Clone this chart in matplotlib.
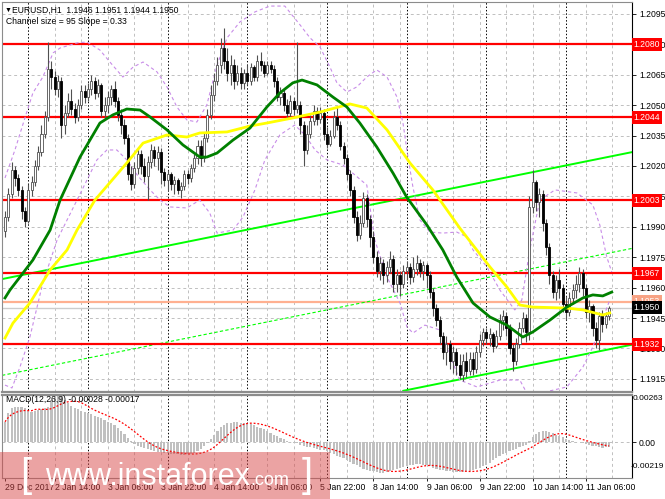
import matplotlib
matplotlib.use("Agg")
import matplotlib.pyplot as plt
import numpy as np
import pandas as pd
from matplotlib.patches import Rectangle

# EURUSD H1 candles (open of each bar = previous close)
first_open = 1.1988
closes = [
	1.1995, 1.2006, 1.2018, 1.2014, 1.2008, 1.1998, 1.1993, 1.2008, 1.2012, 1.2020,
	1.2027, 1.2036, 1.2044, 1.2068, 1.2064, 1.2058, 1.2062, 1.2040, 1.2046, 1.2052,
	1.2048, 1.2044, 1.2050, 1.2057, 1.2054, 1.2058, 1.2062, 1.2056, 1.2060, 1.2047,
	1.2050, 1.2054, 1.2058, 1.2052, 1.2045, 1.2040, 1.2034, 1.2016, 1.2011, 1.2019,
	1.2026, 1.2020, 1.2015, 1.2022, 1.2028, 1.2024, 1.2027, 1.2017, 1.2013, 1.2016,
	1.2011, 1.2013, 1.2008, 1.2010, 1.2016, 1.2014, 1.2019, 1.2024, 1.2030, 1.2024,
	1.2034, 1.2045, 1.2055, 1.2062, 1.2070, 1.2078, 1.2072, 1.2066, 1.2070, 1.2062,
	1.2066, 1.2061, 1.2066, 1.2062, 1.2069, 1.2064, 1.2072, 1.2070, 1.2066, 1.2070,
	1.2068, 1.2062, 1.2054, 1.2056, 1.2050, 1.2046, 1.2052, 1.2048, 1.2050, 1.2040,
	1.2028, 1.2036, 1.2042, 1.2047, 1.2043, 1.2046, 1.2036, 1.2031, 1.2035, 1.2044,
	1.2040, 1.2030, 1.2024, 1.2016, 1.2008, 1.1995, 1.1986, 1.1992, 1.2004, 1.1994,
	1.1985, 1.1975, 1.1968, 1.1972, 1.1966, 1.1970, 1.1974, 1.1962, 1.1966, 1.1962,
	1.1968, 1.1970, 1.1965, 1.1969, 1.1972, 1.1968, 1.1971, 1.1966, 1.1958, 1.1950,
	1.1944, 1.1936, 1.1928, 1.1932, 1.1924, 1.1928, 1.1922, 1.1917, 1.1924, 1.1919,
	1.1925, 1.1920, 1.1928, 1.1934, 1.1938, 1.1935, 1.1937, 1.1931, 1.1936, 1.1944,
	1.1946, 1.1940, 1.1930, 1.1924, 1.1932, 1.1940, 1.1945, 1.1938, 1.2000, 1.2012,
	1.2002, 1.2006, 1.1992, 1.1980, 1.1966, 1.1958, 1.1964, 1.1960, 1.1952, 1.1948,
	1.1955, 1.1959, 1.1962, 1.1967, 1.1960, 1.1948, 1.1951, 1.1940, 1.1934, 1.1946,
	1.1942, 1.1946, 1.1950,
]
highs = [
	1.1998, 1.2009, 1.2022, 1.2020, 1.2016, 1.2010, 1.2000, 1.2011, 1.2015, 1.2023,
	1.2030, 1.2040, 1.2047, 1.2081, 1.2072, 1.2067, 1.2065, 1.2064, 1.2050, 1.2056,
	1.2058, 1.2051, 1.2053, 1.2060, 1.2060, 1.2061, 1.2065, 1.2064, 1.2063, 1.2061,
	1.2054, 1.2057, 1.2060, 1.2062, 1.2054, 1.2048, 1.2043, 1.2036, 1.2020, 1.2022,
	1.2029, 1.2028, 1.2024, 1.2025, 1.2031, 1.2030, 1.2030, 1.2029, 1.2019, 1.2018,
	1.2017, 1.2015, 1.2014, 1.2012, 1.2018, 1.2018, 1.2021, 1.2026, 1.2033, 1.2033,
	1.2037, 1.2048, 1.2060, 1.2066, 1.2074, 1.2083, 1.2088, 1.2078, 1.2075, 1.2073,
	1.2070, 1.2069, 1.2068, 1.2070, 1.2071, 1.2070, 1.2075, 1.2076, 1.2072, 1.2072,
	1.2072, 1.2070, 1.2064, 1.2059, 1.2058, 1.2053, 1.2055, 1.2054, 1.2081, 1.2052,
	1.2042, 1.2040, 1.2045, 1.2050, 1.2049, 1.2049, 1.2048, 1.2039, 1.2038, 1.2047,
	1.2049, 1.2042, 1.2032, 1.2026, 1.2018, 1.2010, 1.1998, 1.1996, 1.2007, 1.2006,
	1.1996, 1.1988, 1.1978, 1.1975, 1.1974, 1.1973, 1.1978, 1.1976, 1.1969, 1.1968,
	1.1971, 1.1973, 1.1972, 1.1975, 1.1976, 1.1974, 1.1973, 1.1972, 1.1968, 1.1960,
	1.1952, 1.1946, 1.1938, 1.1936, 1.1934, 1.1931, 1.1930, 1.1927, 1.1927, 1.1928,
	1.1928, 1.1928, 1.1931, 1.1937, 1.1940, 1.1940, 1.1940, 1.1938, 1.1939, 1.1947,
	1.1949, 1.1948, 1.1942, 1.1932, 1.1935, 1.1943, 1.1948, 1.1947, 1.2005, 1.2018,
	1.2013, 1.2009, 1.2008, 1.1994, 1.1982, 1.1968, 1.1966, 1.1969, 1.1962, 1.1956,
	1.1958, 1.1962, 1.1966, 1.1970, 1.1969, 1.1962, 1.1954, 1.1952, 1.1943, 1.1948,
	1.1949, 1.1948, 1.1951,
]
lows = [
	1.1985, 1.1993, 1.2004, 1.2010, 1.2005, 1.1994, 1.1990, 1.1992, 1.2005, 1.2010,
	1.2018, 1.2025, 1.2034, 1.2042, 1.2058, 1.2055, 1.2054, 1.2034, 1.2036, 1.2044,
	1.2045, 1.2041, 1.2042, 1.2048, 1.2051, 1.2052, 1.2055, 1.2053, 1.2054, 1.2044,
	1.2043, 1.2046, 1.2050, 1.2049, 1.2042, 1.2036, 1.2031, 1.2013, 1.2008, 1.2009,
	1.2016, 1.2016, 1.2012, 1.2003, 1.2019, 1.2020, 1.2018, 1.2011, 1.2010, 1.2008,
	1.2008, 1.2006, 1.2006, 1.2004, 1.2008, 1.2011, 1.2012, 1.2017, 1.2021, 1.2020,
	1.2022, 1.2032, 1.2043, 1.2052, 1.2060, 1.2066, 1.2068, 1.2062, 1.2060, 1.2058,
	1.2060, 1.2058, 1.2058, 1.2060, 1.2060, 1.2062, 1.2062, 1.2067, 1.2064, 1.2065,
	1.2066, 1.2059, 1.2052, 1.2050, 1.2047, 1.2043, 1.2044, 1.2045, 1.2046, 1.2036,
	1.2020, 1.2026, 1.2034, 1.2040, 1.2040, 1.2041, 1.2033, 1.2029, 1.2030, 1.2034,
	1.2038, 1.2028, 1.2021, 1.2013, 1.2005, 1.1992, 1.1983, 1.1984, 1.1990, 1.1990,
	1.1980, 1.1972, 1.1965, 1.1964, 1.1962, 1.1963, 1.1967, 1.1958, 1.1958, 1.1956,
	1.1960, 1.1964, 1.1962, 1.1963, 1.1966, 1.1965, 1.1964, 1.1960, 1.1955, 1.1946,
	1.1941, 1.1932, 1.1925, 1.1922, 1.1920, 1.1918, 1.1917, 1.1915, 1.1914, 1.1916,
	1.1917, 1.1917, 1.1918, 1.1926, 1.1931, 1.1932, 1.1931, 1.1928, 1.1930, 1.1934,
	1.1939, 1.1936, 1.1927, 1.1919, 1.1922, 1.1930, 1.1938, 1.1933, 1.1934, 1.1997,
	1.1998, 1.1995, 1.1988, 1.1976, 1.1962, 1.1955, 1.1954, 1.1955, 1.1948, 1.1944,
	1.1946, 1.1952, 1.1955, 1.1958, 1.1956, 1.1945, 1.1943, 1.1936, 1.1930, 1.1929,
	1.1938, 1.1940, 1.1944,
]

# MACD(12,26,9) main line, in 1e-5 units
macd_main = [
	115, 163, 190, 196, 198, 198, 190, 175, 170, 175,
	180, 185, 190, 200, 235, 255, 264, 260, 240, 220,
	205, 195, 185, 175, 170, 165, 160, 150, 142, 135,
	125, 115, 105, 95, 80, 65, 45, 25, 8, -10,
	-20, -28, -35, -40, -45, -50, -55, -58, -60, -63,
	-66, -68, -70, -72, -72, -70, -66, -60, -50, -38,
	-22, -5, 15, 40, 65, 85, 98, 106, 110, 112,
	112, 110, 108, 105, 100, 95, 88, 80, 72, 62,
	52, 42, 32, 24, 16, 8, 2, -3, -8, -14,
	-20, -26, -30, -34, -38, -42, -46, -52, -60, -68,
	-76, -84, -92, -102, -112, -122, -132, -142, -150, -156,
	-162, -166, -170, -172, -172, -170, -166, -160, -154, -148,
	-142, -136, -132, -128, -126, -126, -128, -132, -138, -144,
	-150, -156, -160, -164, -166, -168, -170, -170, -168, -166,
	-162, -158, -152, -146, -138, -128, -116, -104, -92, -80,
	-70, -60, -52, -45, -38, -30, -22, -14, 5, 28,
	45, 55, 60, 60, 56, 50, 42, 34, 26, 18,
	12, 6, 2, -2, -6, -10, -14, -20, -25, -30,
	-32, -30, -28,
]

# moving averages and bands, sampled along the drawn curves (bar, price)
green_ma_bar = [0, 1.5, 4.5, 8.4, 13.6, 16.6, 22.6, 25.6, 28.6, 32.5, 36.7, 40.7, 43.7, 48.8,
	53.6, 58.7, 60.8, 63.9, 68.7, 73.8, 78.9, 82.8, 86.7, 89.5, 94, 98.8, 103, 106.9, 112,
	116.9, 121, 127.1, 131.9, 136.1, 141, 146.1, 151.2, 156, 159, 164.2, 169.3, 174.1,
	177.1, 180.1, 182.8]
green_ma = [1.19549, 1.19588, 1.19652, 1.19736, 1.19884, 1.20032, 1.20244, 1.20328, 1.20412,
	1.20452, 1.20481, 1.20476, 1.20442, 1.20378, 1.20304, 1.20244, 1.20244, 1.20264, 1.20328,
	1.20387, 1.20491, 1.20560, 1.20610, 1.20624, 1.20600, 1.20540, 1.20491, 1.20412, 1.20294,
	1.20165, 1.20047, 1.19909, 1.19786, 1.19652, 1.19524, 1.19455, 1.19415, 1.19356, 1.19381,
	1.19440, 1.19504, 1.19549, 1.19564, 1.19559, 1.19578]
yellow_ma_bar = [0, 2.4, 7.5, 13.6, 18.7, 21.7, 27.1, 36.7, 41.6, 48.8, 54.8, 58.7, 66.9, 73.8,
	78.9, 86.7, 94.9, 103.9, 109, 115.1, 122, 128.9, 137, 146.1, 151.2, 155.1, 159, 169.3,
	174.1, 180.1, 182.2]
yellow_ma = [1.19351, 1.19425, 1.19524, 1.19687, 1.19786, 1.19884, 1.20032, 1.20215, 1.20313,
	1.20353, 1.20343, 1.20363, 1.20368, 1.20397, 1.20412, 1.20437, 1.20466, 1.20506, 1.20486,
	1.20378, 1.20215, 1.20082, 1.19894, 1.19702, 1.19603, 1.19514, 1.19504, 1.19499, 1.19490,
	1.19465, 1.19475]
band_up_bar = [0, 3, 6, 8.4, 11.4, 14.5, 16.6, 21.7, 24.7, 28.6, 31.6, 35.5, 38.6, 41.6, 45.8,
	48.8, 51.8, 54.8, 57.8, 60.8, 63.9, 66.9, 70.8, 75.3, 79.8, 84.3, 88.9, 91.9, 94.9, 97.9,
	100, 103, 106, 109, 112, 115.1, 118.1, 119.9, 121.4, 122.9, 125, 128, 131.9, 136.1, 139.2,
	141, 145.2, 149.1, 153.6, 155.7, 158.1, 161.1, 165.7, 172.3, 177.1, 179.2, 181.3, 182.8]
band_up = [1.20141, 1.20279, 1.20437, 1.20560, 1.20639, 1.20758, 1.20782, 1.20807, 1.20812,
	1.20772, 1.20713, 1.20639, 1.20688, 1.20713, 1.20664, 1.20590, 1.20491, 1.20427, 1.20417,
	1.20501, 1.20698, 1.20832, 1.20911, 1.20960, 1.20989, 1.20989, 1.20896, 1.20832, 1.20787,
	1.20688, 1.20610, 1.20565, 1.20590, 1.20639, 1.20674, 1.20639, 1.20540, 1.20412, 1.20244,
	1.20096, 1.19934, 1.19874, 1.19869, 1.19874, 1.19850, 1.19786, 1.19702, 1.19588, 1.19490,
	1.19539, 1.19786, 1.20032, 1.20082, 1.20067, 1.20008, 1.19909, 1.19751, 1.19677]
band_lo_bar = [0, 2.1, 4.5, 7.5, 11.4, 15.7, 21.7, 24.7, 27.7, 30.7, 33.7, 36.7, 39.8, 43.7,
	46.7, 49.7, 54.8, 58.7, 61.7, 63.9, 68.7, 71.7, 75.3, 78.3, 82.8, 87.3, 90.4, 93.4, 97,
	101.8, 105.4, 109, 111.4, 115.1, 119, 121.1, 122.9, 126.5, 131, 134, 137, 142.2, 149.1,
	155.1, 157.2, 162.7, 169.3, 174.1, 177.1, 179.2, 182.2]
band_lo = [1.19119, 1.19105, 1.19208, 1.19356, 1.19623, 1.19835, 1.20032, 1.20131, 1.20230,
	1.20279, 1.20279, 1.20230, 1.20156, 1.20082, 1.20032, 1.19998, 1.19993, 1.20032, 1.19968,
	1.19869, 1.19884, 1.19948, 1.20082, 1.20230, 1.20353, 1.20402, 1.20353, 1.20279, 1.20230,
	1.20205, 1.20156, 1.20106, 1.19835, 1.19652, 1.19524, 1.19406, 1.19376, 1.19415, 1.19391,
	1.19267, 1.19144, 1.19110, 1.19144, 1.19144, 1.19080, 1.19085, 1.19110, 1.19208, 1.19307,
	1.19406, 1.19539]

# horizontal levels and the equidistant channel
levels = [1.2080, 1.2044, 1.2003, 1.1967, 1.1932]
bid_price = 1.1953
last_price = 1.1950
channel_top_start = 1.19645
channel_slope = 0.000033
channel_size = 0.0095
channel_low_from = 120

price_ticks = [1.2095, 1.2080, 1.2065, 1.2050, 1.2035, 1.2020, 1.2005, 1.1990, 1.1975,
	1.1960, 1.1945, 1.1930, 1.1915]
date_bars = [0, 15, 31, 47, 63, 79, 95, 111, 127, 143, 159, 175]
date_labels = ["29 Dec 2017", "2 Jan 14:00", "3 Jan 06:00", "3 Jan 22:00", "4 Jan 14:00",
	"5 Jan 06:00", "5 Jan 22:00", "8 Jan 14:00", "9 Jan 06:00", "9 Jan 22:00",
	"10 Jan 14:00", "11 Jan 06:00"]
day_bars = [7, 25, 49, 73, 97, 121, 145, 169]
grid_bars = list(range(15, 188, 8))

W, H = 665, 499
XLIM = (-0.9, 188.9)
FONT = ['Liberation Sans', 'DejaVu Sans']
GRID = dict(color='#c0c0c0', lw=0.7, ls=(0, (3, 3)), zorder=0)
SEP = dict(color='#000000', lw=0.7, ls=(0, (1.5, 2)), zorder=0.5)


def draw_candles(ax):
	idx = np.arange(len(closes))
	c = np.array(closes)
	o = np.r_[first_open, c[:-1]]
	hi = np.maximum(np.array(highs), np.maximum(o, c))
	lo = np.minimum(np.array(lows), np.minimum(o, c))
	up = c >= o
	ax.vlines(idx, lo, hi, color='#505050', lw=0.8, zorder=3)
	body = np.maximum(np.abs(c - o), 0.00003)
	ax.bar(idx, body, bottom=np.minimum(o, c), width=0.62,
		color=np.where(up, 'white', 'black'), edgecolor=np.where(up, '#505050', 'black'),
		linewidth=0.6, zorder=3.2)


def level_label(ax, price, face):
	ax.text(1.0025, price, f"{price:.4f}", transform=ax.get_yaxis_transform(),
		color='white', fontsize=6.2, family=FONT, va='center', ha='left', clip_on=False,
		zorder=10, bbox=dict(boxstyle='square,pad=0.22', fc=face, ec='none'))


def main_panel(ax):
	ax.set_xlim(*XLIM)
	ax.set_ylim(1.19085, 1.21009)
	for p in price_ticks:
		ax.axhline(p, **GRID)
	for b in grid_bars:
		ax.axvline(b, **GRID)
	for b in day_bars:
		ax.axvline(b, **SEP)

	# channel
	xs = np.array(XLIM)
	top = channel_top_start + channel_slope * xs
	ax.plot(xs, top, color='#00ff00', lw=1.4, zorder=2)
	ax.plot(xs, top - channel_size / 2, color='#00ff00', lw=0.8, ls=(0, (3, 2)), zorder=2)
	xl = np.array([channel_low_from, XLIM[1]])
	ax.plot(xl, channel_top_start + channel_slope * xl - channel_size, color='#00ff00', lw=1.4, zorder=2)

	for lv in levels:
		ax.axhline(lv, color='#ff0000', lw=1.6, zorder=2)
	ax.axhline(bid_price, color='#ffb090', lw=1.6, zorder=1.5)
	ax.axhline(last_price, color='#cccccc', lw=1.0, zorder=1.5)

	band = dict(color='#c88ce8', lw=0.8, ls=(0, (3, 2.5)), zorder=2.5)
	ax.plot(band_up_bar, band_up, **band)
	ax.plot(band_lo_bar, band_lo, **band)

	draw_candles(ax)
	ax.plot(yellow_ma_bar, yellow_ma, color='#ffff00', lw=2.0, zorder=4)
	ax.plot(green_ma_bar, green_ma, color='#008000', lw=2.0, zorder=4.2)

	ax.yaxis.tick_right()
	ax.set_yticks(price_ticks)
	ax.set_yticklabels([f"{p:.4f}" for p in price_ticks], family=FONT)
	ax.tick_params(axis='y', length=3, width=0.6, labelsize=6.2, pad=2)
	ax.tick_params(axis='x', bottom=False, labelbottom=False)

	for lv in levels:
		level_label(ax, lv, '#ff0000')
	level_label(ax, bid_price, '#f7a284')
	level_label(ax, last_price, '#000000')

	ax.text(0.004, 0.979, "\u25bc", transform=ax.transAxes, fontsize=5, va='center', family=FONT)
	ax.text(0.016, 0.979, "EURUSD,H1  1.1946 1.1951 1.1944 1.1950", transform=ax.transAxes,
		fontsize=6.2, va='center', family=FONT)
	ax.text(0.006, 0.951, "Channel size = 95 Slope = 0.33", transform=ax.transAxes,
		fontsize=6.2, va='center', family=FONT)


def macd_panel(fig, ax):
	idx = np.arange(len(macd_main))
	m = np.array(macd_main) * 1e-5
	signal = pd.Series(m).rolling(9, min_periods=1).mean()
	ax.set_xlim(*XLIM)
	ax.set_ylim(-0.00203, 0.00266)
	ax.axhline(0, **GRID)
	for b in grid_bars:
		ax.axvline(b, **GRID)
	for b in day_bars:
		ax.axvline(b, **SEP)
	ax.bar(idx, m, width=0.66, color='#c0c0c0', edgecolor='none', zorder=2)
	ax.plot(idx, signal, color='#ff0000', lw=0.9, ls=(0, (1.5, 1.5)), zorder=3)

	ax.yaxis.tick_right()
	ax.set_yticks([0])
	ax.set_yticklabels(["0.00"], family=FONT)
	ax.tick_params(axis='y', length=3, width=0.6, labelsize=6.2, pad=2)
	fig.text(663 / W, 1 - 399 / H, "0.00263", fontsize=6.0, va='center', ha='right', family=FONT)
	fig.text(664 / W, 1 - 467 / H, "-0.00219", fontsize=6.0, va='center', ha='right', family=FONT)

	# date scale: short ticks, labels start just right of each tick
	ax.set_xticks(date_bars)
	ax.tick_params(axis='x', length=2.5, width=0.6, labelbottom=False)
	dates = ax.get_xaxis_transform()
	for b, lab in zip(date_bars, date_labels):
		x = max(b, XLIM[0] + 0.3)
		ax.text(x, -0.115, lab, transform=dates, fontsize=6.2, ha='left', va='center',
			family=FONT, clip_on=False)
	ax.text(0.007, 0.94, "MACD(12,26,9) -0.00028 -0.00017", transform=ax.transAxes,
		fontsize=6.2, va='center', family=FONT)


def style(ax):
	for side in ['left', 'top', 'bottom']:
		ax.spines[side].set_color('#8c8c8c')
	ax.spines['right'].set_color('#000000')
	ax.spines['right'].set_linewidth(0.8)


def watermark(fig):
	fig.add_artist(Rectangle((0, 0), 330 / W, 47 / H, transform=fig.transFigure,
		fc='#d84848', alpha=0.5, ec='none', zorder=20))
	fig.text(20 / W, 1 - 476 / H, "[", color='white', fontsize=29, va='center',
		family='Liberation Sans', zorder=21)
	t = fig.text(45 / W, 1 - 485 / H, "www.instaforex", color='white', fontsize=22,
		va='baseline', family='Liberation Sans', zorder=21)
	fig.canvas.draw()
	ext = t.get_window_extent()
	fig.text(ext.x1 / W, 1 - 485 / H, ".com", color='white', fontsize=13,
		va='baseline', family='Liberation Sans', zorder=21)
	fig.text(302 / W, 1 - 476 / H, "]", color='white', fontsize=29, va='center',
		family='Liberation Sans', zorder=21)


def main():
	fig = plt.figure(figsize=(W / 100, H / 100), dpi=100)
	fig.patch.set_facecolor('white')
	ax = fig.add_axes([2 / W, 1 - 392 / H, 630 / W, 390 / H])
	ax2 = fig.add_axes([2 / W, 1 - 478 / H, 630 / W, 83 / H])
	main_panel(ax)
	macd_panel(fig, ax2)
	style(ax)
	style(ax2)
	ax.spines['bottom'].set_linewidth(1.6)
	ax2.spines['top'].set_linewidth(1.6)
	watermark(fig)
	fig.savefig("out.png", dpi=100)


if __name__ == '__main__':
	main()
